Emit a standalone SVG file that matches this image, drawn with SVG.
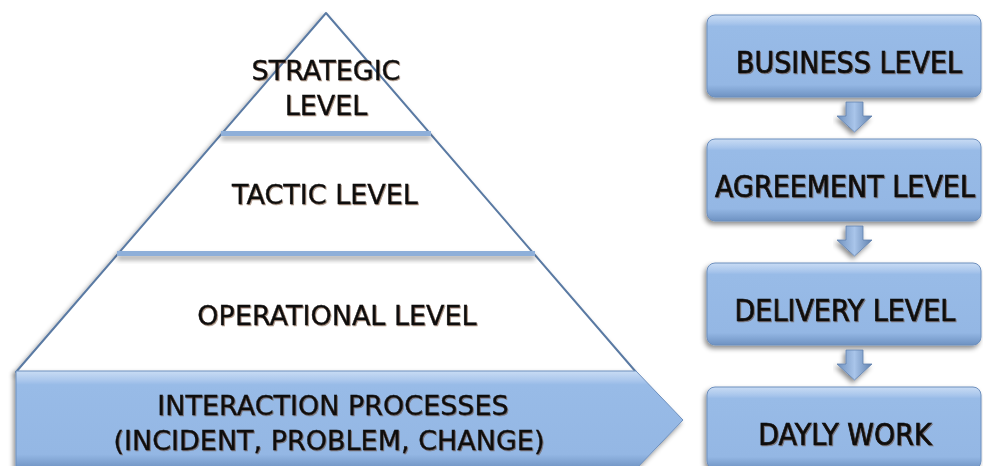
<svg xmlns="http://www.w3.org/2000/svg" width="983" height="466" viewBox="0 0 983 466">
<style>
text{fill:#111;text-anchor:middle;stroke:#111;stroke-width:0.4}
.p{font-family:"DejaVu Sans",sans-serif;font-size:27px}
.b{font-family:"DejaVu Sans Condensed","DejaVu Sans",sans-serif;font-size:30px;stroke-width:0.7}
.sep{fill:#8eafd9}
.box{fill:url(#bg);stroke:#6d8fbd;stroke-width:1}
</style>
<defs>
<linearGradient id="bg" x1="0" y1="0" x2="0" y2="1">
<stop offset="0" stop-color="#c9dcf4"/>
<stop offset="0.1" stop-color="#a9c6ec"/>
<stop offset="0.14" stop-color="#98bbe7"/>
<stop offset="0.85" stop-color="#94b7e4"/>
<stop offset="1" stop-color="#6e92c2"/>
</linearGradient>
<linearGradient id="ag" x1="0" y1="0" x2="1" y2="0">
<stop offset="0" stop-color="#6f90bd"/>
<stop offset="0.5" stop-color="#a9c5ea"/>
<stop offset="1" stop-color="#5f80ad"/>
</linearGradient>
<filter id="sh" x="-10%" y="-10%" width="120%" height="130%">
<feDropShadow dx="-2" dy="3" stdDeviation="2.5" flood-color="#000" flood-opacity="0.45"/>
</filter>
<filter id="ls" x="-5%" y="-50%" width="110%" height="300%">
<feDropShadow dx="0" dy="4" stdDeviation="2.5" flood-color="#000" flood-opacity="0.35"/>
</filter>
<filter id="ts" x="-10%" y="-10%" width="120%" height="130%">
<feDropShadow dx="1" dy="1" stdDeviation="0.6" flood-color="#5a3010" flood-opacity="0.5"/>
</filter>
</defs>
<g id="pyramid">
<path d="M326 13 L636 372 L16 372 Z" fill="#fff" stroke="#5a7aa3" stroke-width="2" stroke-linejoin="round" filter="url(#sh)"/>
</g>
<g id="strategic">
<text class="p" x="326" y="80" filter="url(#ts)">STRATEGIC</text>
<text class="p" x="326" y="115" filter="url(#ts)">LEVEL</text>
</g>
<g id="sep1"><rect class="sep" x="221" y="131" width="210" height="5" filter="url(#ls)"/></g>
<g id="tactic">
<text class="p" x="325" y="204" filter="url(#ts)">TACTIC LEVEL</text>
</g>
<g id="sep2"><rect class="sep" x="117" y="251" width="418" height="5" filter="url(#ls)"/></g>
<g id="operational">
<text class="p" x="337" y="325" filter="url(#ts)">OPERATIONAL LEVEL</text>
</g>
<g id="interaction">
<path class="box" d="M16 371 L636 371 L683 420 L636 469 L16 469 Z" filter="url(#sh)"/>
<text class="p" x="333" y="415" filter="url(#ts)">INTERACTION PROCESSES</text>
<text class="p" x="329" y="450" filter="url(#ts)">(INCIDENT, PROBLEM, CHANGE)</text>
</g>
<g id="business">
<rect class="box" x="707" y="15" width="274" height="82" rx="8" filter="url(#sh)"/>
<text class="b" x="849" y="73" filter="url(#ts)">BUSINESS LEVEL</text>
</g>
<g id="agreement">
<rect class="box" x="707" y="139" width="274" height="82" rx="8" filter="url(#sh)"/>
<text class="b" x="845" y="197" filter="url(#ts)">AGREEMENT LEVEL</text>
</g>
<g id="delivery">
<rect class="box" x="707" y="263" width="274" height="82" rx="8" filter="url(#sh)"/>
<text class="b" x="845" y="321" filter="url(#ts)">DELIVERY LEVEL</text>
</g>
<g id="daylywork">
<rect class="box" x="707" y="387" width="274" height="82" rx="8" filter="url(#sh)"/>
<text class="b" x="845" y="445" filter="url(#ts)">DAYLY WORK</text>
</g>
<g id="connectors" fill="url(#ag)" stroke="#5f80ad" stroke-width="0.8" filter="url(#sh)">
<path d="M846 102 H863 V116 H872 L854.5 132 L837 116 H846 Z"/>
<path d="M846 226 H863 V240 H872 L854.5 256 L837 240 H846 Z"/>
<path d="M846 350 H863 V364 H872 L854.5 380 L837 364 H846 Z"/>
</g>
</svg>
